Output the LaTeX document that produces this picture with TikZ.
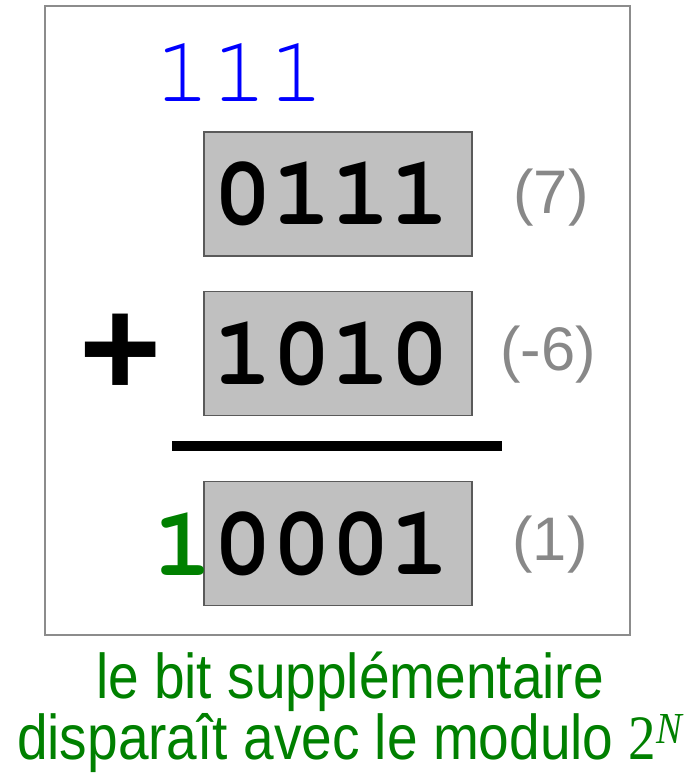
\documentclass[tikz,border=0pt]{standalone}
\usepackage{fontspec}
\setmainfont{Liberation Sans}
\setmonofont{TeX Gyre Cursor}
\newfontfamily\serifface{Liberation Serif}
\usetikzlibrary{positioning}
\definecolor{framegray}{RGB}{140,140,140}
\definecolor{boxfill}{RGB}{192,192,192}
\definecolor{boxedge}{RGB}{90,90,90}
\definecolor{valgray}{RGB}{136,136,136}
\definecolor{bitgreen}{RGB}{0,128,0}
\tikzset{
    frame/.style={draw=framegray, line width=1.4pt},
    word/.style={draw=boxedge, fill=boxfill, line width=0.8pt, minimum width=5.36cm, minimum height=2.48cm, inner sep=0pt, font=\ttfamily\bfseries\fontsize{56}{60}\selectfont},
    carry/.style={text=blue, inner sep=0pt, font=\ttfamily\fontsize{54}{56}\selectfont},
    value/.style={text=valgray, inner sep=0pt, font=\fontsize{35}{40}\selectfont},
    overflow/.style={text=bitgreen, inner sep=0pt, font=\ttfamily\bfseries\fontsize{56}{60}\selectfont},
    note/.style={text=bitgreen, inner sep=0pt, align=center, xscale=0.87, font=\fontsize{36}{31}\selectfont},
    rule/.style={line width=5.7pt}
}

\begin{document}
\begin{tikzpicture}[x=0.02cm, y=-0.02cm]
    \useasboundingbox (0,0) rectangle (695,774);
    \draw[frame] (45,6) rectangle (630,635);

    \node[carry] (c) at (240,72) {111};
    \node[word] (a) at (338,194) {\hspace*{-0.25cm}0111};
    \node[word, below=0.68cm of a] (b) {\hspace*{-0.25cm}1010};
    \node[word, below=1.3cm of b] (s) {\hspace*{-0.25cm}0001};
    \node[overflow, anchor=east] (o) at ([xshift=0.2cm]s.west) {1};

    \node[inner sep=0pt, font=\bfseries\fontsize{80}{80}\selectfont] (p) at (121,355) {+};
    \draw[rule] (172,446) -- (502,446);

    \node[value] (va) at (551,198) {(7)};
    \node[value] (vb) at (548,355) {(-6)};
    \node[value] (vs) at (550,545) {(1)};

    \node[note] (n) at (350,712) {le bit supplémentaire\\disparaît avec le modulo {\serifface 2\textsuperscript{\itshape N}}};
\end{tikzpicture}
\end{document}
